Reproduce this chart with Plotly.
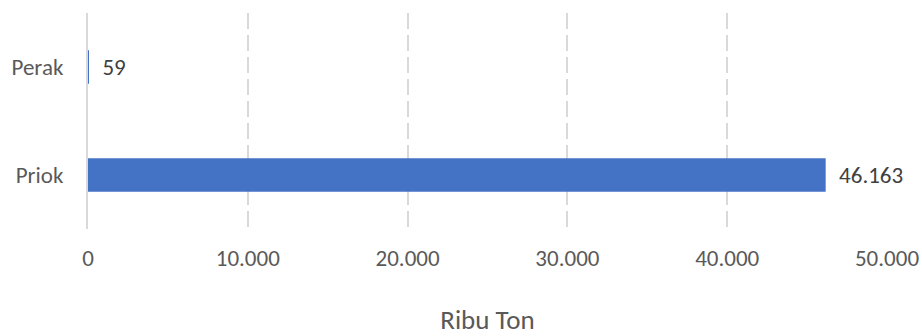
import plotly.graph_objects as go

# Data
categories = ['Priok', 'Perak']
values = [46163, 59]
tick_vals = [0, 10000, 20000, 30000, 40000, 50000]

FONT = 'Carlito, Noto Sans, sans-serif'
TXT = '#595959'
FS = 23
PAD = '\u00a0\u00a0'

fig = go.Figure()
fig.add_bar(
    y=categories, x=values, orientation='h',
    marker=dict(color='#4472C4', line=dict(width=0)),
    width=0.31,
    text=values, texttemplate=PAD + '%{x:,}', textposition='outside',
    textfont=dict(family=FONT, size=FS, color='#404040'),
    cliponaxis=False,
)

fig.update_layout(
    width=922, height=336,
    margin=dict(l=88, r=35, t=13, b=107),
    plot_bgcolor='white', paper_bgcolor='white',
    separators=',.',
    showlegend=False,
    font=dict(family=FONT, size=FS, color=TXT),
    xaxis=dict(
        range=[0, 50000], tickvals=tick_vals, tickformat=',',
        showgrid=True, gridcolor='#d9d9d9', griddash='16px,6px', gridwidth=1.5,
        zeroline=False, showline=False, ticks='', automargin=False,
        ticklabelstandoff=13,
        tickfont=dict(family=FONT, size=FS, color=TXT),
        title=dict(text='Ribu Ton', font=dict(family=FONT, size=27, color=TXT), standoff=53),
    ),
    yaxis=dict(
        categoryorder='array', categoryarray=categories,
        showline=True, linecolor='#d9d9d9', linewidth=2,
        showgrid=False, ticks='', automargin=False,
        ticklabelstandoff=18,
        tickfont=dict(family=FONT, size=FS, color=TXT),
    ),
)

# drop the default 8px body margin so the figure fills the window
fig.write_html('out.html', config={'displayModeBar': False},
               post_script="document.body.style.margin='0';")
